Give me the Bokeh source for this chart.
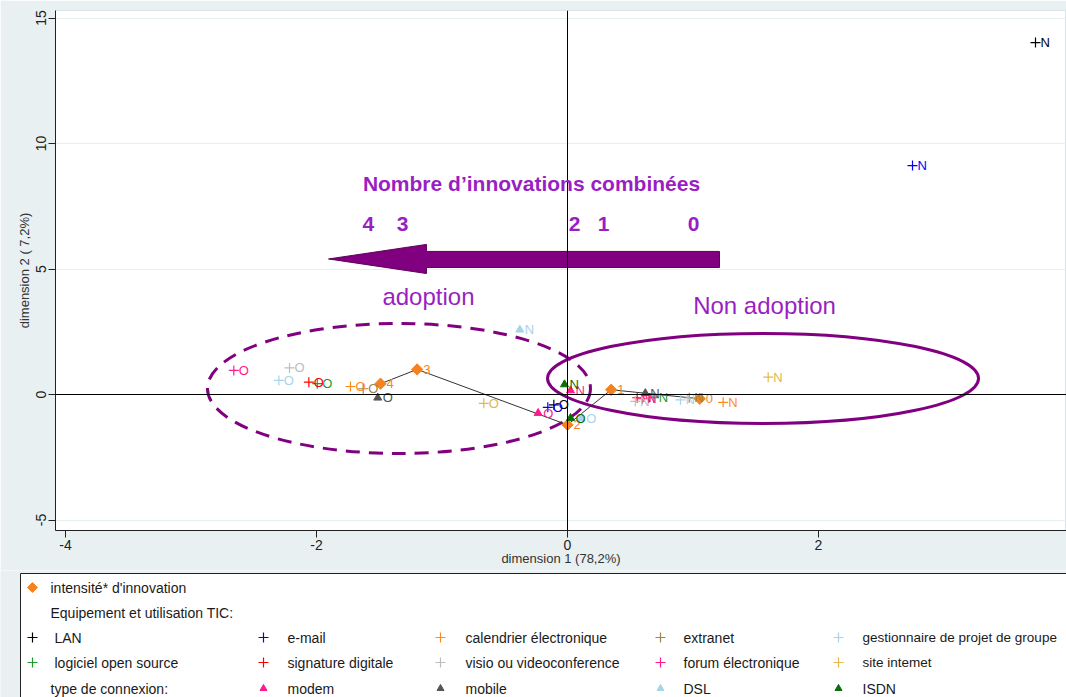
import math
from bokeh.plotting import figure
from bokeh.models import Range1d, Span, Label, ColumnDataSource, FixedTicker
from bokeh.layouts import column
from bokeh.embed import file_html
from bokeh.resources import INLINE
from bokeh.core.properties import value

# ---------------- data ----------------
tic_names = ["LAN", "e-mail", "calendrier électronique", "extranet",
             "gestionnaire de projet de groupe", "logiciel open source",
             "signature digitale", "visio ou videoconference",
             "forum électronique", "site intemet"]
tic_colors = ["#000000", "#0000ff", "#ff8c1a", "#a0824a", "#a8d4ea",
              "#1e9a2a", "#ff0000", "#bdbdbd", "#ff1a8c", "#e0b84e"]
tic_O_x = [-0.109, -0.157, -1.729, -1.628, -2.300, -1.994, -2.061, -2.215, -2.659, -0.667]
tic_O_y = [-0.41, -0.51, 0.32, 0.23, 0.56, 0.43, 0.49, 1.06, 0.96, -0.35]
tic_N_x = [3.729, 2.749, 1.240, 0.970, 0.900, 0.688, 0.555, 0.540, 0.595, 1.599]
tic_N_y = [14.02, 9.12, -0.31, -0.13, -0.21, -0.13, -0.13, -0.27, -0.17, 0.69]

conn_names = ["modem", "mobile", "DSL", "ISDN"]
conn_colors = ["#ff1a8c", "#555555", "#a8d4ea", "#0a6e0a"]
conn_O_x = [-0.234, -1.512, 0.110, 0.024]
conn_O_y = [-0.74, -0.13, -0.95, -0.94]
conn_N_x = [0.024, 0.620, -0.380, -0.024]
conn_N_y = [0.16, 0.05, 2.58, 0.40]

intens_labels = ["0", "1", "2", "3", "4"]
intens_x = [1.054, 0.348, 0.000, -1.198, -1.490]
intens_y = [-0.17, 0.19, -1.21, 1.00, 0.43]

x_ticks = [-4, -2, 0, 2, 4]
y_ticks = [-5, 0, 5, 10, 15]

BG = "#e8f0f2"
PURPLE = "#800080"
PTEXT = "#9a1fc2"
ORANGE = "#f5821f"
FONT = "Liberation Sans"

# ---------------- main plot ----------------
p = figure(width=1066, height=570, x_range=Range1d(-4.0797, 3.976),
           y_range=Range1d(-5.418, 15.299), output_backend="svg",
           toolbar_location=None, min_border_left=55, min_border_right=0,
           min_border_top=10, min_border_bottom=40)
p.frame_align = False
p.background_fill_color = "white"
p.border_fill_color = BG
p.outline_line_color = "#d8e4e6"
p.xgrid.grid_line_color = None
p.ygrid.grid_line_color = "#e6eff1"
p.xaxis.ticker = FixedTicker(ticks=x_ticks)
p.yaxis.ticker = FixedTicker(ticks=y_ticks)
p.xaxis.major_label_overrides = {t: str(t) for t in x_ticks}
p.yaxis.major_label_overrides = {t: str(t) for t in y_ticks}
p.axis.minor_tick_line_color = None
p.axis.major_tick_out = 7
p.axis.major_tick_in = 0
p.axis.axis_line_color = "#222222"
p.axis.major_tick_line_color = "#222222"
p.axis.major_label_text_font = FONT
p.axis.major_label_text_font_size = "14px"
p.axis.major_label_text_color = "#222222"
p.axis.major_label_standoff = 2
p.axis.axis_label_text_font_style = "normal"
p.axis.axis_label_text_color = "#333333"
p.xaxis.axis_label = "dimension 1 (78,2%)"
p.xaxis.axis_label_text_font = FONT
p.xaxis.axis_label_text_font_size = "13px"
p.xaxis.axis_label_standoff = -2
p.yaxis.axis_label = "dimension 2 ( 7,2%)"
p.yaxis.axis_label_text_font = FONT
p.yaxis.axis_label_text_font_size = "13px"
p.yaxis.axis_label_standoff = 2
p.yaxis.major_label_orientation = "vertical"

# ellipses (annotation shapes)
p.ellipse(x=[-1.343], y=[0.24], width=3.052, height=5.18, fill_color=None,
          line_color=PURPLE, line_width=3, line_dash="14 9")
p.ellipse(x=[1.558], y=[0.64], width=3.434, height=3.59, fill_color=None,
          line_color=PURPLE, line_width=3)

# big arrow (annotation shape)
p.patch(x=[1.211, -1.124, -1.124, -1.904, -1.124, -1.124, 1.211],
        y=[5.70, 5.70, 5.98, 5.40, 4.82, 5.06, 5.06],
        fill_color=PURPLE, line_color="#5c005c", line_width=1)

# reference lines
p.add_layout(Span(location=0, dimension="height", line_color="black", line_width=1))
p.add_layout(Span(location=0, dimension="width", line_color="black", line_width=1))

# texts
p.add_layout(Label(x=-0.287, y=8.41, text="Nombre d’innovations combinées",
                   text_align="center", text_baseline="middle", text_font=FONT,
                   text_font_size="21px", text_font_style="bold", text_color=PTEXT))
for t, xx in zip(["4", "3", "2", "1", "0"], [-1.586, -1.315, 0.056, 0.287, 1.004]):
    p.add_layout(Label(x=xx, y=6.81, text=t, text_align="center", text_baseline="middle",
                       text_font=FONT, text_font_size="21px", text_font_style="bold",
                       text_color=PTEXT))
p.add_layout(Label(x=-1.108, y=3.90, text="adoption", text_align="center",
                   text_baseline="middle", text_font=FONT, text_font_size="24px",
                   text_color=PTEXT))
p.add_layout(Label(x=1.57, y=3.55, text="Non adoption", text_align="center",
                   text_baseline="middle", text_font=FONT, text_font_size="24px",
                   text_color=PTEXT))

# intensity path
isrc = ColumnDataSource(dict(x=intens_x, y=intens_y, t=intens_labels))
p.line("x", "y", source=isrc, line_color="#333333", line_width=1)
p.scatter("x", "y", source=isrc, marker="square", angle=math.pi / 4, size=8,
          fill_color=ORANGE, line_color=ORANGE)
p.text("x", "y", text="t", source=isrc, x_offset=6, text_baseline="middle",
       text_font=value(FONT), text_font_size="13px", text_color=ORANGE)

# TIC points
tx, ty, tl, tc = [], [], [], []
for i in range(len(tic_names)):
    tx += [tic_O_x[i], tic_N_x[i]]
    ty += [tic_O_y[i], tic_N_y[i]]
    tl += ["O", "N"]
    tc += [tic_colors[i], tic_colors[i]]
tsrc = ColumnDataSource(dict(x=tx, y=ty, t=tl, c=tc))
p.scatter("x", "y", source=tsrc, marker="cross", size=10, line_color="c", line_width=1.2)
p.text("x", "y", text="t", source=tsrc, x_offset=5, text_baseline="middle",
       text_font=value(FONT), text_font_size="13px", text_color="c")

# connection points
cx, cy, cl, cc = [], [], [], []
for i in range(len(conn_names)):
    cx += [conn_O_x[i], conn_N_x[i]]
    cy += [conn_O_y[i], conn_N_y[i]]
    cl += ["O", "N"]
    cc += [conn_colors[i], conn_colors[i]]
csrc = ColumnDataSource(dict(x=cx, y=cy, t=cl, c=cc))
p.scatter("x", "y", source=csrc, marker="triangle", size=8, fill_color="c", line_color="c")
p.text("x", "y", text="t", source=csrc, x_offset=5, text_baseline="middle",
       text_font=value(FONT), text_font_size="13px", text_color="c")

# ---------------- legend panel ----------------
LH = 127
L = figure(width=1066, height=LH, x_range=Range1d(0, 1066), y_range=Range1d(LH, 0),
           output_backend="svg", toolbar_location=None, min_border=0,
           x_axis_type=None, y_axis_type=None)
L.frame_align = False
L.grid.visible = False
L.outline_line_color = None
L.background_fill_color = BG
L.border_fill_color = BG
L.quad(left=[20], right=[1090], top=[3], bottom=[220], fill_color="white",
       line_color="#222222", line_width=1)

rows = [17, 42, 67, 92, 118]
mcols = [32, 263, 440, 660, 838]
tcols = [54, 287, 465, 683, 862]
LCOL = "#1a1a1a"

def ltext(x, y, s, size="14px"):
    L.text(x=[x], y=[y], text=[s], text_baseline="middle", text_font=value(FONT),
           text_font_size=size, text_color=LCOL)

L.scatter(x=[mcols[0]], y=[rows[0]], marker="square", angle=math.pi / 4, size=7,
          fill_color=ORANGE, line_color=ORANGE)
ltext(50, rows[0], "intensité* d'innovation")
ltext(50, rows[1], "Equipement et utilisation TIC:")
for i in range(len(tic_names)):
    r = rows[2] if i < 5 else rows[3]
    c = i % 5
    L.scatter(x=[mcols[c]], y=[r], marker="cross", size=10, line_color=tic_colors[i],
              line_width=1.2)
    ltext(tcols[c], r, tic_names[i], "13.5px" if c == 4 else "14px")
ltext(50, rows[4], "type de  connexion:")
for i in range(len(conn_names)):
    L.scatter(x=[mcols[i + 1]], y=[rows[4]], marker="triangle", size=7,
              fill_color=conn_colors[i], line_color=conn_colors[i])
    ltext(tcols[i + 1], rows[4], conn_names[i])

layout = column(p, L, spacing=0)
open("out.html", "w", encoding="utf-8").write(file_html(layout, INLINE))
